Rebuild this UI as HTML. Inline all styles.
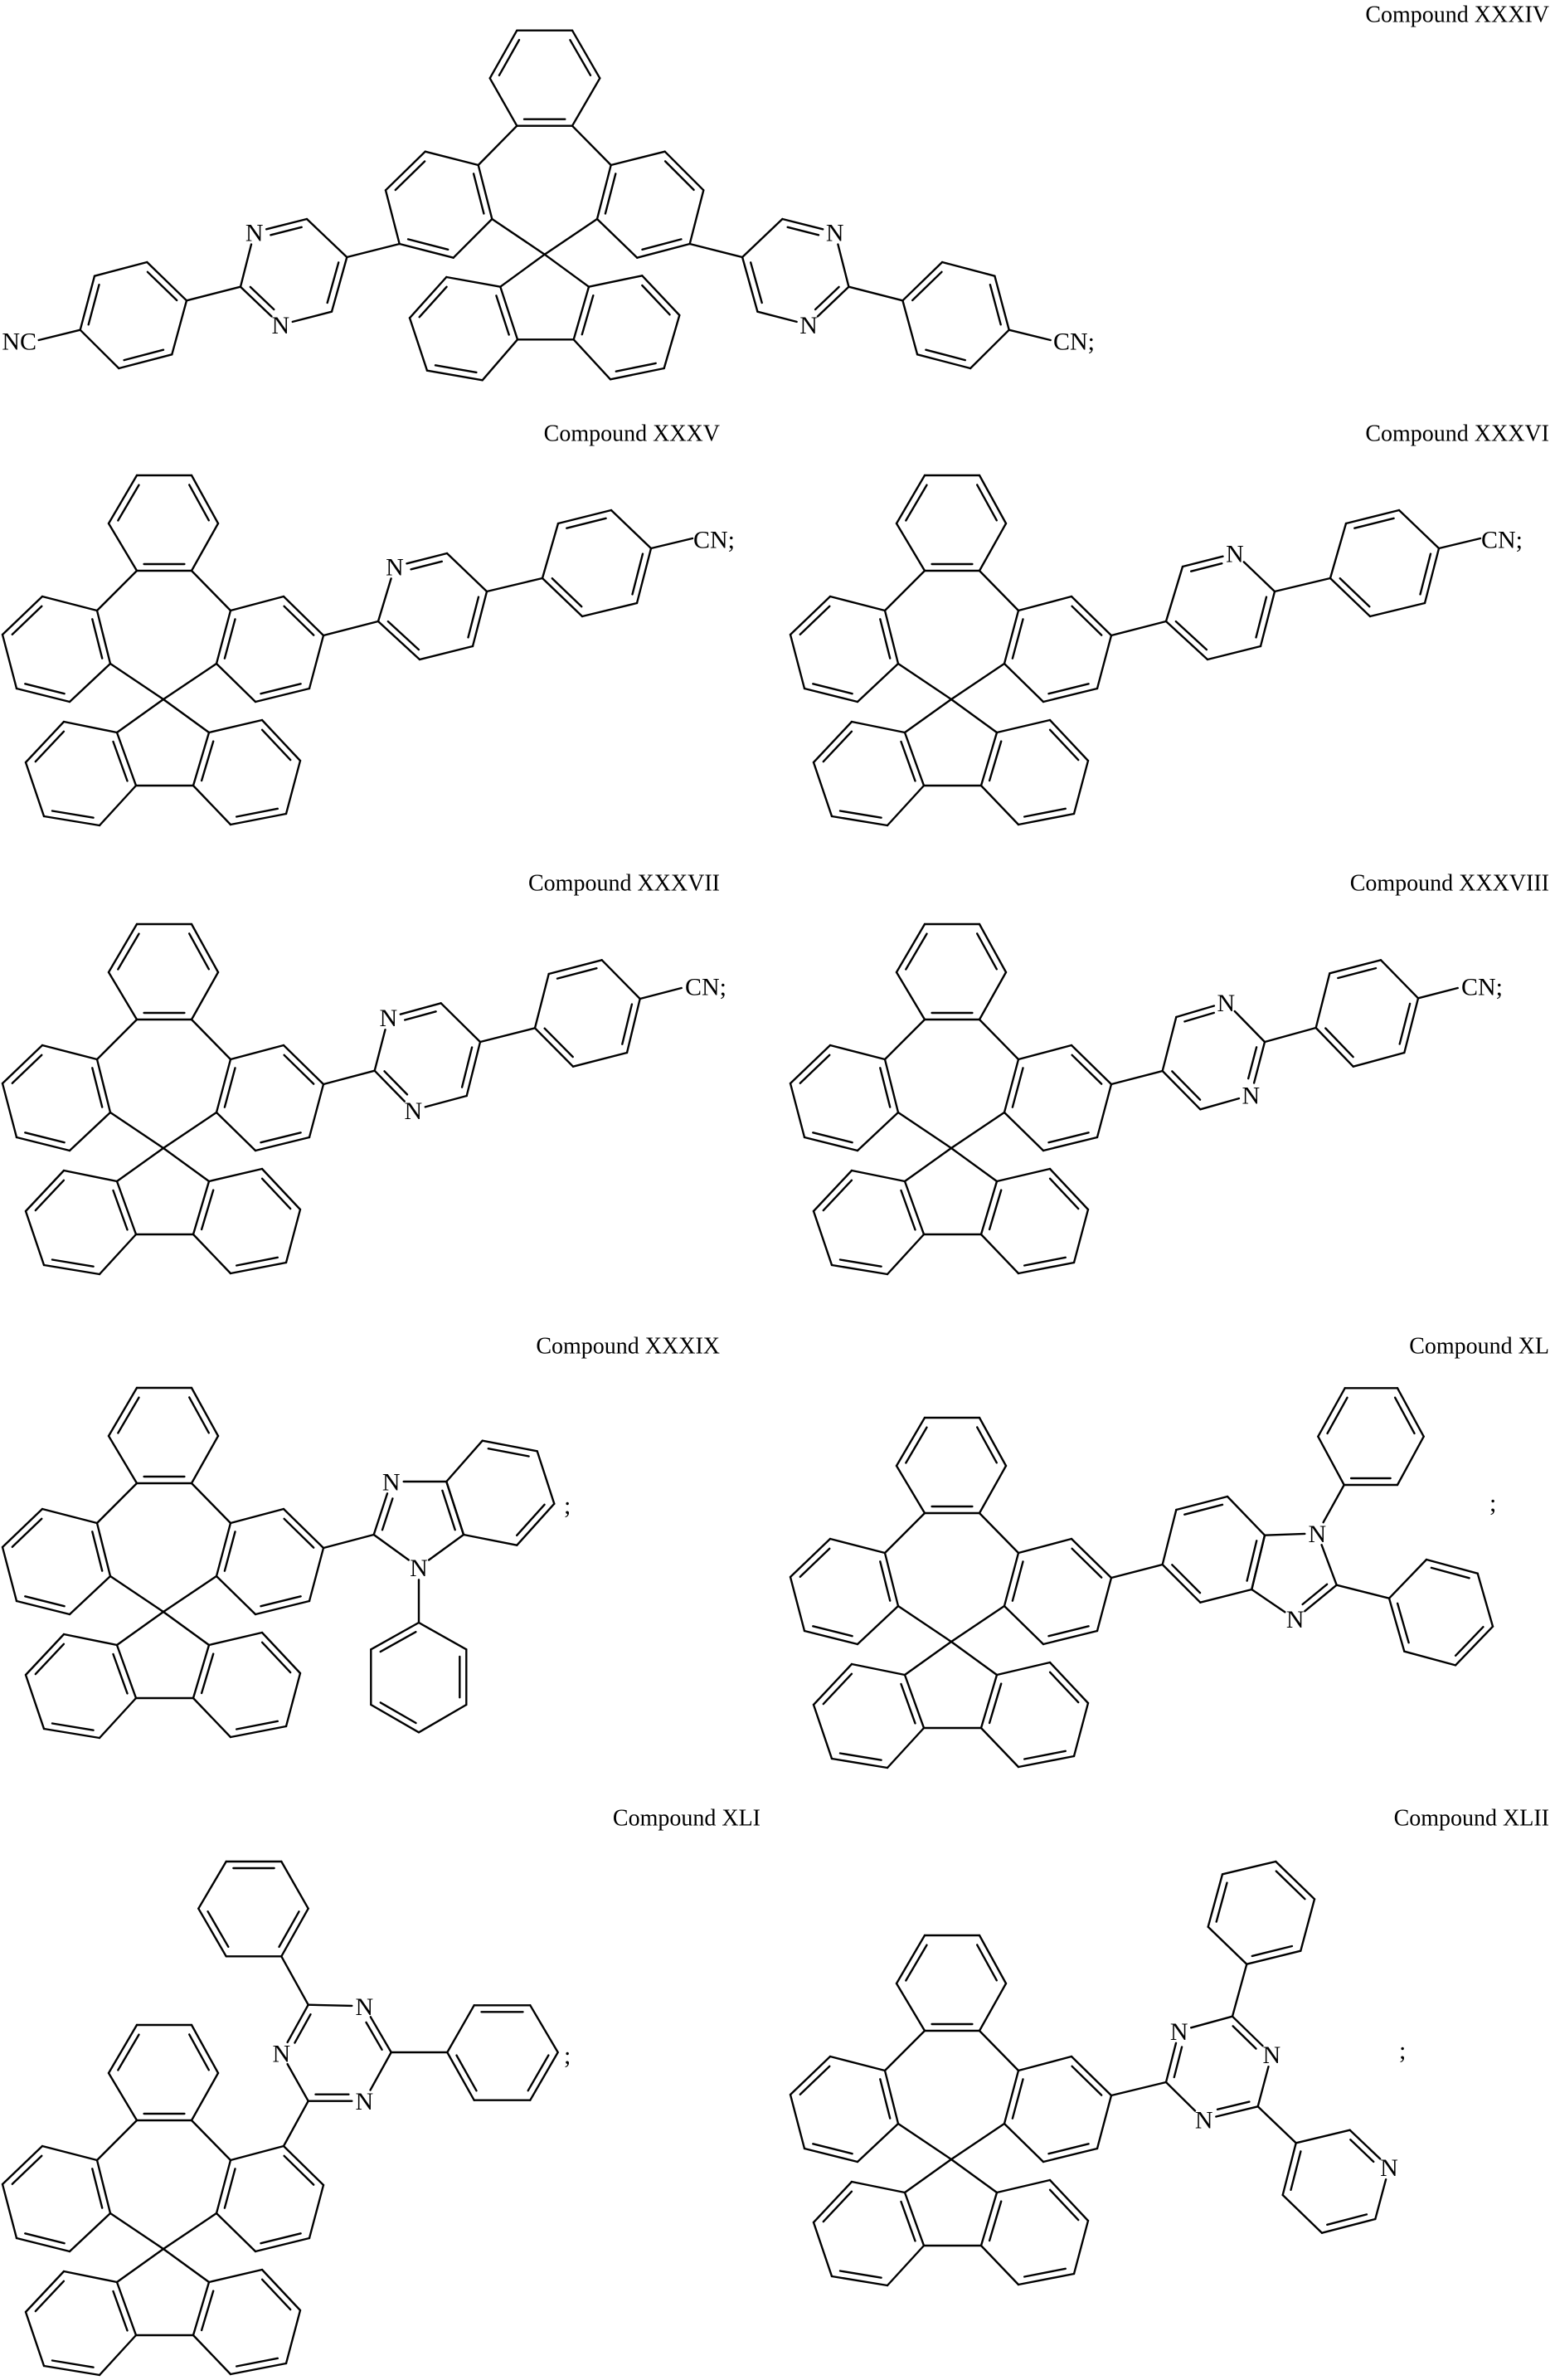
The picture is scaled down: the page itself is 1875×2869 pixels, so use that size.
<!DOCTYPE html>
<html><head><meta charset="utf-8">
<style>
html,body{margin:0;padding:0;background:#fff;}
svg{display:block;}
text{font-family:"Liberation Serif",serif;fill:#000;}
</style></head>
<body>
<svg id="s" xmlns="http://www.w3.org/2000/svg" width="1875" height="2869" viewBox="0 0 1875 2869">
<g id="g" stroke="#000" stroke-width="2.4" fill="none" stroke-linecap="round"></g>
<g id="t"></g>
</svg>
<script>
const NS="http://www.w3.org/2000/svg";
const G=document.getElementById('g'), T=document.getElementById('t');
let LAB=[];
function isLab(p){return LAB.some(q=>Math.abs(q[0]-p[0])<1.5&&Math.abs(q[1]-p[1])<1.5);}
function ln(x1,y1,x2,y2){const e=document.createElementNS(NS,'line');e.setAttribute('x1',x1.toFixed(1));e.setAttribute('y1',y1.toFixed(1));e.setAttribute('x2',x2.toFixed(1));e.setAttribute('y2',y2.toFixed(1));G.appendChild(e);}
function txt(x,y,s,anchor,size){const e=document.createElementNS(NS,'text');e.setAttribute('x',x);e.setAttribute('y',y);e.setAttribute('text-anchor',anchor||'middle');e.setAttribute('dominant-baseline','central');e.setAttribute('font-size',size||30);e.textContent=s;T.appendChild(e);}
function bond(a,b){let [x1,y1]=a,[x2,y2]=b;const d=Math.hypot(x2-x1,y2-y1),ux=(x2-x1)/d,uy=(y2-y1)/d;
 if(isLab(a)){x1+=ux*15;y1+=uy*15;} if(isLab(b)){x2-=ux*15;y2-=uy*15;} ln(x1,y1,x2,y2);}
function sh(pts,dx,dy){return pts.map(p=>[p[0]+dx,p[1]+dy]);}
function N(p){LAB.push(p);txt(p[0],p[1]+1,'N');}
function ring(pts,dbl){const n=pts.length;let cx=0,cy=0;pts.forEach(p=>{cx+=p[0];cy+=p[1];});cx/=n;cy/=n;
 for(let i=0;i<n;i++)bond(pts[i],pts[(i+1)%n]);
 dbl.forEach(i=>{const a=pts[i],b=pts[(i+1)%n];let dx=b[0]-a[0],dy=b[1]-a[1];const d=Math.hypot(dx,dy);let nx=-dy/d,ny=dx/d;
  const mx=(a[0]+b[0])/2,my=(a[1]+b[1])/2; if((cx-mx)*nx+(cy-my)*ny<0){nx=-nx;ny=-ny;}
  const t1=isLab(a)?0.28:0.13,t2=isLab(b)?0.72:0.87;
  ln(a[0]+dx*t1+nx*8,a[1]+dy*t1+ny*8,a[0]+dx*t2+nx*8,a[1]+dy*t2+ny*8);});}
function core(dx,dy){
 const top=sh([[165,573],[231,573],[263,631],[231,688],[165,688],[131,631]],dx,dy);
 const lft=sh([[51,719],[117,736],[133,800],[84,846],[20,830],[3,765]],dx,dy);
 const rgt=sh([[278,736],[342,719],[390,766],[373,830],[308,846],[261,800]],dx,dy);
 const fl=sh([[141,883],[77,870],[31,919],[53,984],[120,995],[164,947]],dx,dy);
 const fr=sh([[252,883],[316,868],[362,917],[345,981],[278,994],[233,947]],dx,dy);
 const sp=[197+dx,843+dy];
 [top,lft,rgt,fl,fr].forEach(r=>ring(r,[1,3,5]));
 bond(top[4],lft[1]);bond(top[3],rgt[0]);bond(lft[2],sp);bond(rgt[5],sp);bond(sp,fl[0]);bond(sp,fr[0]);bond(fl[5],fr[5]);
}
(function(){
 const top=[[623.3,36.7],[690,36.7],[723.3,94.3],[690,151.7],[623.3,151.7],[590.7,94.3]];
 const L=[[512.7,182.7],[576.7,199],[593.3,264],[546.7,310.7],[481.7,294],[465,229.3]];
 const R=[[736.7,199],[801.7,182.7],[848.3,229.3],[831.7,294],[768.3,310.7],[720,264]];
 const FL=[[603.3,345.7],[538.3,334],[494,383.3],[515,446.7],[581.7,458.3],[624,409.3]];
 const FR=[[710,345.7],[774.3,332.3],[819.3,380],[800.7,444],[736,457.3],[691.7,409.3]];
 const sp=[656.7,306.7];
 [top,L,R,FL,FR].forEach(r=>ring(r,[1,3,5]));
 bond(top[4],L[1]);bond(top[3],R[0]);bond(L[2],sp);bond(R[5],sp);bond(sp,FL[0]);bond(sp,FR[0]);bond(FL[5],FR[5]);
 const M=x=>1313.4-x;
 for(const side of [0,1]){
  const f=p=>side?[M(p[0]),p[1]]:p;
  const pym=[[418.3,310],[370,264],[306.7,280],[290,345.7],[338.3,391.7],[400,375.7]].map(f);
  N(pym[2]);N(pym[4]);
  ring(pym,[1,3,5]);
  const ph=[[225,362.3],[177.3,316],[114,332.7],[96.7,397.7],[143.3,444],[207.3,427.3]].map(f);
  ring(ph,[0,2,4]);
  bond(f([481.7,294]),pym[0]);bond(pym[3],ph[0]);
  const a=f([96.7,397.7]),b=f([46.7,410]);bond(a,b);
 }
 txt(44,412,'NC','end');txt(1270,412,'CN;','start');
})();
[[0,0],[950,1]].forEach(([dx,k],idx)=>{
 core(dx,0);
 const py=sh([[456,749],[476,683],[539,667],[587,713],[570,779],[506,795]],dx,0);
 N(idx==0?py[1]:py[2]);
 ring(py,[1,3,5]);
 const ph=sh([[654,697],[673,631],[737,615],[785,661],[768,727],[702,743]],dx,0);
 ring(ph,[1,3,5]);
 bond([390+dx,766],py[0]);bond(py[3],ph[0]);bond(ph[3],[835+dx,649]);
 txt(836+dx,651,'CN;','start');
});
core(0,541);
(function(){const py=[[451.7,1290.7],[468.3,1226.7],[531.7,1209.3],[579,1256],[562.7,1321],[498.3,1338.3]];
 N(py[1]);N(py[5]);ring(py,[1,3,5]);
 const ph=[[645,1239.3],[661.7,1174],[725.7,1157.3],[771.7,1204],[756,1269],[691,1285.7]];ring(ph,[1,3,5]);
 bond([390,1307],py[0]);bond(py[3],ph[0]);bond(ph[3],[821.7,1191]);txt(826,1190,'CN;','start');})();
core(950,541);
(function(){const py=[[1401.7,1291],[1418.3,1226],[1478.3,1208.3],[1525,1256],[1508.3,1320],[1447.3,1337.3]];
 N(py[2]);N(py[4]);ring(py,[1,3,5]);
 const ph=[[1586.7,1239],[1603.3,1173.3],[1665,1157.3],[1710,1203.3],[1693.3,1269],[1631.7,1285.7]];ring(ph,[1,3,5]);
 bond([1340,1307],py[0]);bond(py[3],ph[0]);bond(ph[3],[1757.7,1191]);txt(1762,1190,'CN;','start');})();
core(0,1100);
(function(){const im=[[450.7,1850],[471.7,1786],[538.3,1786],[559,1850],[505,1889.3]];
 N(im[1]);N(im[4]);ring(im,[0,2]);
 const bz=[[538.3,1786],[581.7,1736.7],[647.7,1749.3],[668.3,1812.7],[623.3,1862.7],[559,1850]];ring(bz,[1,3]);
 const ph=[[505,1956],[562.3,1988.3],[562.3,2055],[505,2088.3],[447.3,2055],[447.3,1988.3]];ring(ph,[1,3,5]);
 bond([390,1866],im[0]);bond(im[4],ph[0]);txt(680,1815,';','start');})();
core(950,1136);
(function(){const bz=[[1401.7,1886],[1418.3,1820],[1480,1804],[1525,1850.7],[1509.3,1916],[1447.3,1931.7]];
 const im=[[1525,1850.7],[1588.3,1848.3],[1611.7,1910.7],[1561.7,1951.7],[1509.3,1916]];
 N(im[1]);N(im[3]);ring(bz,[1,3,5]);ring(im,[2]);
 const p1=[[1620.7,1790],[1589.3,1731.7],[1621.7,1673.3],[1685,1673.3],[1716.7,1731.7],[1685,1790]];ring(p1,[1,3,5]);
 const p2=[[1675,1926.7],[1720,1880],[1781.7,1896.7],[1800,1960.7],[1755,2007.4],[1693.3,1990.7]];ring(p2,[1,3,5]);
 bond([1340,1902],bz[0]);bond(im[1],p1[0]);bond(im[2],p2[0]);txt(1796,1812,';','start');})();
core(0,1868);
(function(){const tz=[[371.7,2532.7],[439.3,2532.7],[471.7,2474],[439.3,2418.3],[371.7,2416.7],[339.3,2475]];
 N(tz[1]);N(tz[3]);N(tz[5]);ring(tz,[0,2,4]);
 const p1=[[339.3,2358.3],[371.7,2300.7],[339.3,2244],[272.7,2244],[239.3,2300.7],[272.7,2358.3]];ring(p1,[0,2,4]);
 const p2=[[539.3,2474],[571.7,2417.3],[639.3,2417.3],[672.7,2474],[639.3,2531.7],[571.7,2531.7]];ring(p2,[1,3,5]);
 bond([342,2587],tz[0]);bond(tz[4],p1[0]);bond(tz[2],p2[0]);txt(680,2478,';','start');})();
core(950,1760);
(function(){const tz=[[1406,2510],[1421.7,2448.3],[1486,2430.7],[1533.3,2476.7],[1516.7,2539.3],[1451.7,2555]];
 N(tz[1]);N(tz[3]);N(tz[5]);ring(tz,[0,2,4]);
 const p1=[[1503.3,2367.7],[1456.7,2322.7],[1474,2259.3],[1538.3,2244],[1585,2289.3],[1568.3,2351.7]];ring(p1,[1,3,5]);
 const py=[[1562.7,2583.3],[1627.7,2567.7],[1675,2612.7],[1658.3,2675],[1594,2691.7],[1546.7,2646]];N(py[2]);ring(py,[1,3,5]);
 bond([1340,2526],tz[0]);bond(tz[2],p1[0]);bond(tz[4],py[0]);txt(1687,2472,';','start');})();
[['Compound XXXIV',1868,18],['Compound XXXV',868,523],['Compound XXXVI',1868,523],['Compound XXXVII',868,1065],['Compound XXXVIII',1868,1065],['Compound XXXIX',868,1623],['Compound XL',1868,1623],['Compound XLI',917,2192],['Compound XLII',1868,2192]].forEach(a=>txt(a[1],a[2],a[0],'end',28));
</script>
</body></html>
